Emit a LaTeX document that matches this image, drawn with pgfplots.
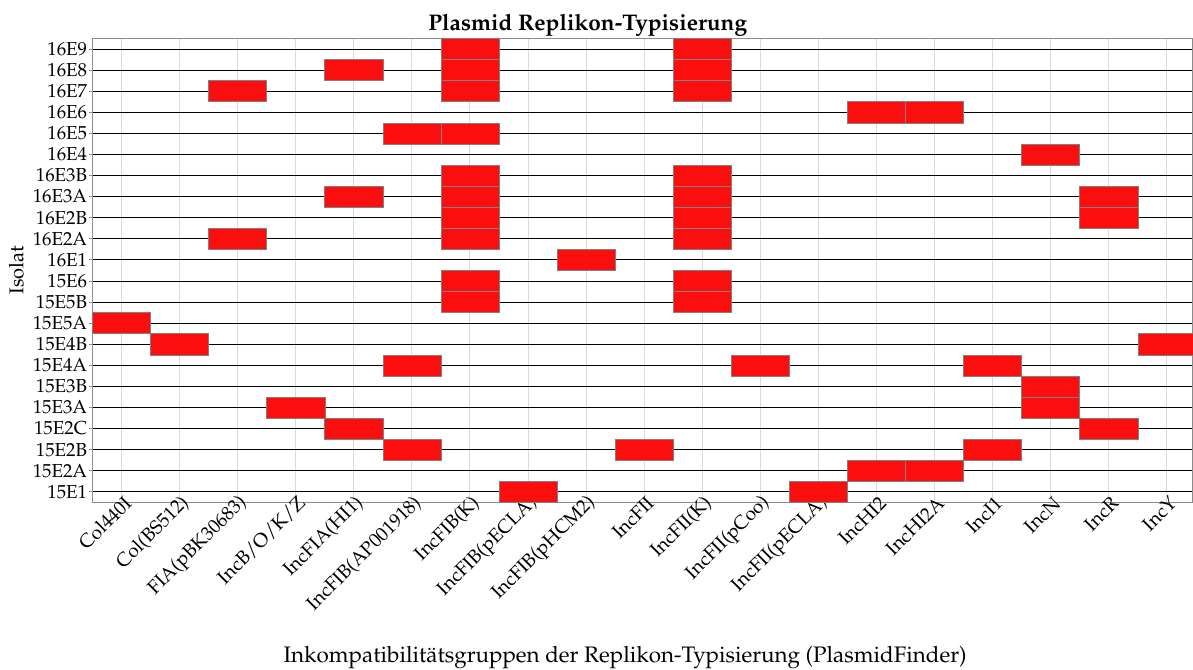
\documentclass[border=0pt]{standalone}
\usepackage[T1]{fontenc}
\usepackage{mathpazo}
\usepackage{pgfplots}
\pgfplotsset{compat=1.18}
\definecolor{cellred}{RGB}{250,14,14}
\definecolor{framegray}{RGB}{140,140,140}
\pgfdeclareplotmark{cell}{%
  \pgfpathrectangle{\pgfqpoint{-14.52pt}{-5.27pt}}{\pgfqpoint{29.04pt}{10.545pt}}%
  \pgfusepathqfillstroke}
\begin{document}
\begin{tikzpicture}
\begin{axis}[
  name=ax,
  scale only axis,
  width=550.25pt, height=232pt,
  xmin=-0.5, xmax=18.45, ymin=-0.5, ymax=21.5,
  xtick={0,...,18}, ytick={0,...,21},
  xticklabels={Col440I,Col(BS512),FIA(pBK30683),IncB/O/K/Z,IncFIA(HI1),IncFIB(AP001918),IncFIB(K),IncFIB(pECLA),IncFIB(pHCM2),IncFII,IncFII(K),IncFII(pCoo),IncFII(pECLA),IncHI2,IncHI2A,IncI1,IncN,IncR,IncY},
  yticklabels={15E1,15E2A,15E2B,15E2C,15E3A,15E3B,15E4A,15E4B,15E5A,15E5B,15E6,16E1,16E2A,16E2B,16E3A,16E3B,16E4,16E5,16E6,16E7,16E8,16E9},
  xticklabel style={xshift=4pt, yshift=3.5pt, rotate=45, anchor=east, inner sep=1pt, font=\fontsize{9.6}{11}\selectfont},
  yticklabel style={inner sep=1pt, font=\fontsize{9.4}{11}\selectfont},
  x tick style={draw=none},
  y tick style={framegray, line width=0.5pt},
  tick align=outside, major tick length=1.5pt,
  xmajorgrids, ymajorgrids,
  x grid style={gray!30, line width=0.5pt},
  y grid style={black, line width=0.5pt},
  axis line style={framegray, line width=0.8pt},
  title={Plasmid Replikon-Typisierung},
  title style={font=\bfseries\fontsize{11.3}{13}\selectfont, at={(0.45,1)}, anchor=base, yshift=-2.25pt},
  xlabel={Inkompatibilit\"atsgruppen der Replikon-Typisierung (PlasmidFinder)},
  ylabel={Isolat},
  xlabel style={font=\fontsize{11.2}{13}\selectfont, at={(0.484,0)}, anchor=base, yshift=-79.75pt},
  ylabel style={font=\fontsize{10}{12}\selectfont},
]
\addplot[only marks, mark=cell, mark options={fill=cellred, draw=gray, line width=0.3pt}] table {
x y
6 21
10 21
4 20
6 20
10 20
2 19
6 19
10 19
13 18
14 18
5 17
6 17
16 16
6 15
10 15
4 14
6 14
10 14
17 14
6 13
10 13
17 13
2 12
6 12
10 12
8 11
6 10
10 10
6 9
10 9
0 8
1 7
18 7
5 6
11 6
15 6
16 5
3 4
16 4
4 3
17 3
5 2
9 2
15 2
13 1
14 1
7 0
12 0
};
\end{axis}
\pgfresetboundingbox
\useasboundingbox ([shift={(-46.25pt,-83.25pt)}]ax.south west) rectangle ([yshift=19.25pt]ax.north east);
\end{tikzpicture}
\end{document}
